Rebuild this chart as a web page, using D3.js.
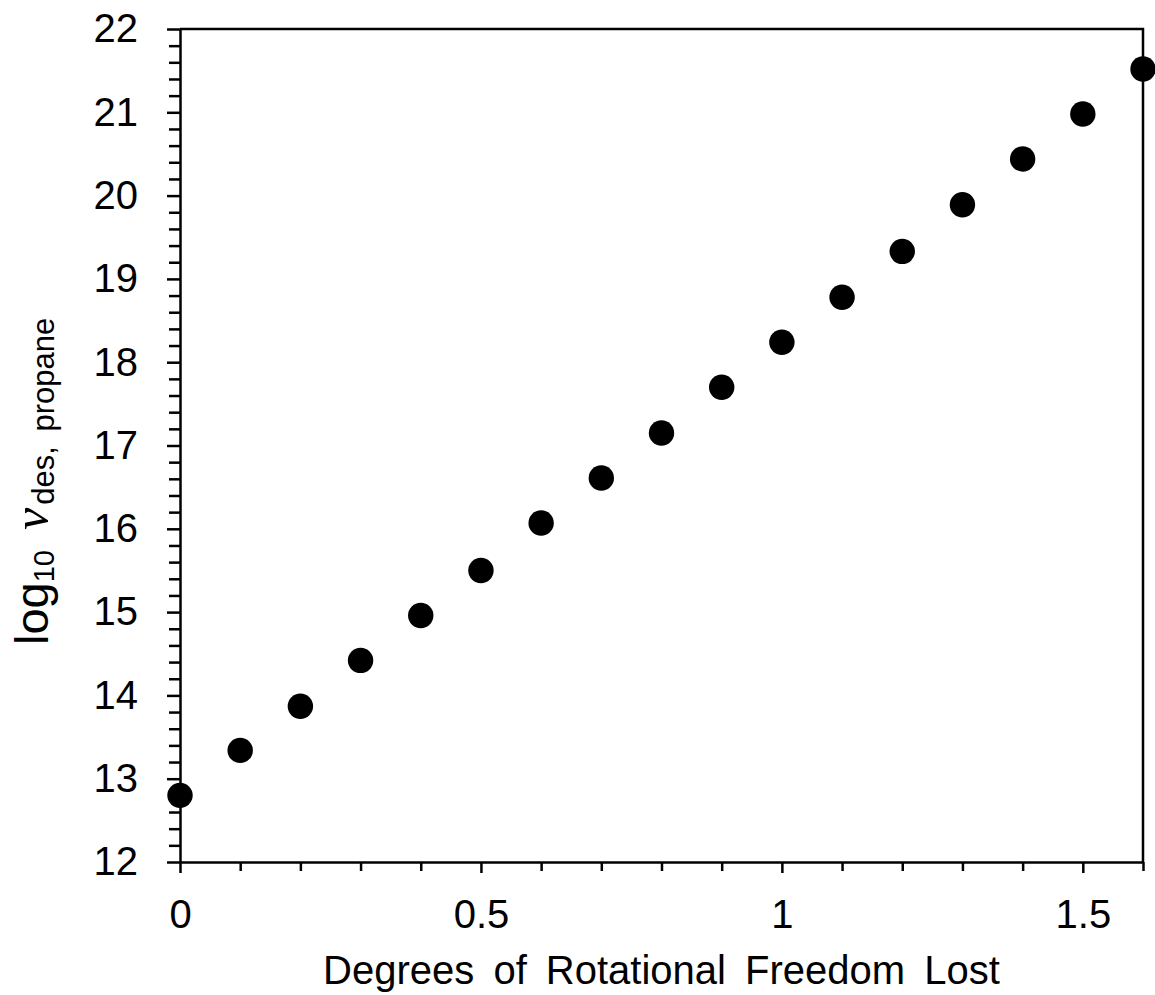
<!DOCTYPE html>
<html lang="en">

<head>
    <meta charset="UTF-8">
    <title>desorption prefactor vs rotational freedom</title>
    <style>
        body { margin: 0; background: #fff; }
        text { font-family: "Liberation Sans", Arial, sans-serif; fill: #000; }
    </style>
</head>

<body>
    <svg id="chart"></svg>

    <script src="https://d3js.org/d3.v7.min.js"></script>
    <script>
        // degrees of rotational freedom lost
        const dofLost = [0, 0.1, 0.2, 0.3, 0.4, 0.5, 0.6, 0.7, 0.8, 0.9, 1.0, 1.1, 1.2, 1.3, 1.4, 1.5, 1.6]
        // log10 nu_des for propane
        const logNu = [12.8, 13.34, 13.87, 14.42, 14.96, 15.5, 16.07, 16.61, 17.15, 17.7, 18.24, 18.78, 19.33, 19.89, 20.44, 20.98, 21.52]

        const xTicks = [0, 0.1, 0.2, 0.3, 0.4, 0.5, 0.6, 0.7, 0.8, 0.9, 1.0, 1.1, 1.2, 1.3, 1.4, 1.5, 1.6]
        const xLabels = [0, 0.5, 1, 1.5]
        const yTicks = d3.range(12, 22.01, 0.2).map(d => +d.toFixed(1))
        const yLabels = [12, 13, 14, 15, 16, 17, 18, 19, 20, 21, 22]

        function renderChart() {
            const width = 1155, height = 995;
            const margin = { top: 29, left: 180, right: 12, bottom: 133 };

            const svg = d3.select('#chart').attr('width', width).attr('height', height);

            const x = d3.scaleLinear()
                .domain([0, 1.6])
                .range([margin.left, width - margin.right]);

            const y = d3.scaleLinear()
                .domain([12, 22])
                .range([height - margin.bottom, margin.top]);

            const isMajorX = v => xLabels.some(l => Math.abs(l - v) < 1e-6);
            const isMajorY = v => yLabels.some(l => Math.abs(l - v) < 1e-6);

            // x軸
            const xAxis = d3.axisBottom(x)
                .tickValues(xTicks)
                .tickFormat(d => isMajorX(d) ? d3.format('')(+d.toFixed(1)) : '')
                .tickSizeOuter(0);

            const gx = svg.append('g')
                .attr('transform', `translate(0,${y(12)})`)
                .call(xAxis);
            gx.select('.domain').attr('stroke-width', 2.5);
            gx.selectAll('.tick line')
                .attr('stroke-width', 2.5)
                .attr('y2', d => isMajorX(d) ? 11 : 9);
            gx.selectAll('.tick text')
                .attr('y', 38)
                .style('font-size', '40px');

            // y軸
            const yAxis = d3.axisLeft(y)
                .tickValues(yTicks)
                .tickFormat(d => isMajorY(d) ? d : '')
                .tickSizeOuter(0);

            const gy = svg.append('g')
                .attr('transform', `translate(${x(0)},0)`)
                .call(yAxis);
            gy.select('.domain').attr('stroke-width', 2.5);
            gy.selectAll('.tick line')
                .attr('stroke-width', 2.5)
                .attr('x2', d => isMajorY(d) ? -13 : -11);
            gy.selectAll('.tick text')
                .attr('x', -42)
                .style('font-size', '40px');

            // top and right frame
            svg.append('path')
                .attr('fill', 'none')
                .attr('stroke', '#000')
                .attr('stroke-width', 2.5)
                .attr('d', `M${x(0)},${y(22)}H${x(1.6)}V${y(12)}`);

            // 資料點
            svg.append('g')
                .selectAll('circle')
                .data(dofLost)
                .join('circle')
                .attr('cx', d => x(d))
                .attr('cy', (d, i) => y(logNu[i]))
                .attr('r', 12.7)
                .attr('fill', '#000');

            // x label
            svg.append('text')
                .attr('x', (x(0) + x(1.6)) / 2)
                .attr('y', 984)
                .attr('text-anchor', 'middle')
                .style('font-size', '40px')
                .style('word-spacing', '8px')
                .text('Degrees of Rotational Freedom Lost');

            // y label
            const yl = svg.append('text')
                .attr('transform', 'translate(48,645) rotate(-90)')
                .attr('text-anchor', 'start');
            yl.append('tspan').style('font-size', '47px').text('log');
            yl.append('tspan').style('font-size', '29px').attr('dy', 6).text('10');
            yl.append('tspan')
                .attr('dx', 20).attr('dy', -6)
                .style('font-family', '"Liberation Serif", "Times New Roman", serif')
                .style('font-style', 'italic')
                .style('font-size', '50px')
                .text('ν');
            yl.append('tspan')
                .attr('dx', 3).attr('dy', 6)
                .style('font-size', '31px')
                .style('word-spacing', '6px')
                .text('des, propane');
        }

        renderChart()
    </script>
</body>

</html>
